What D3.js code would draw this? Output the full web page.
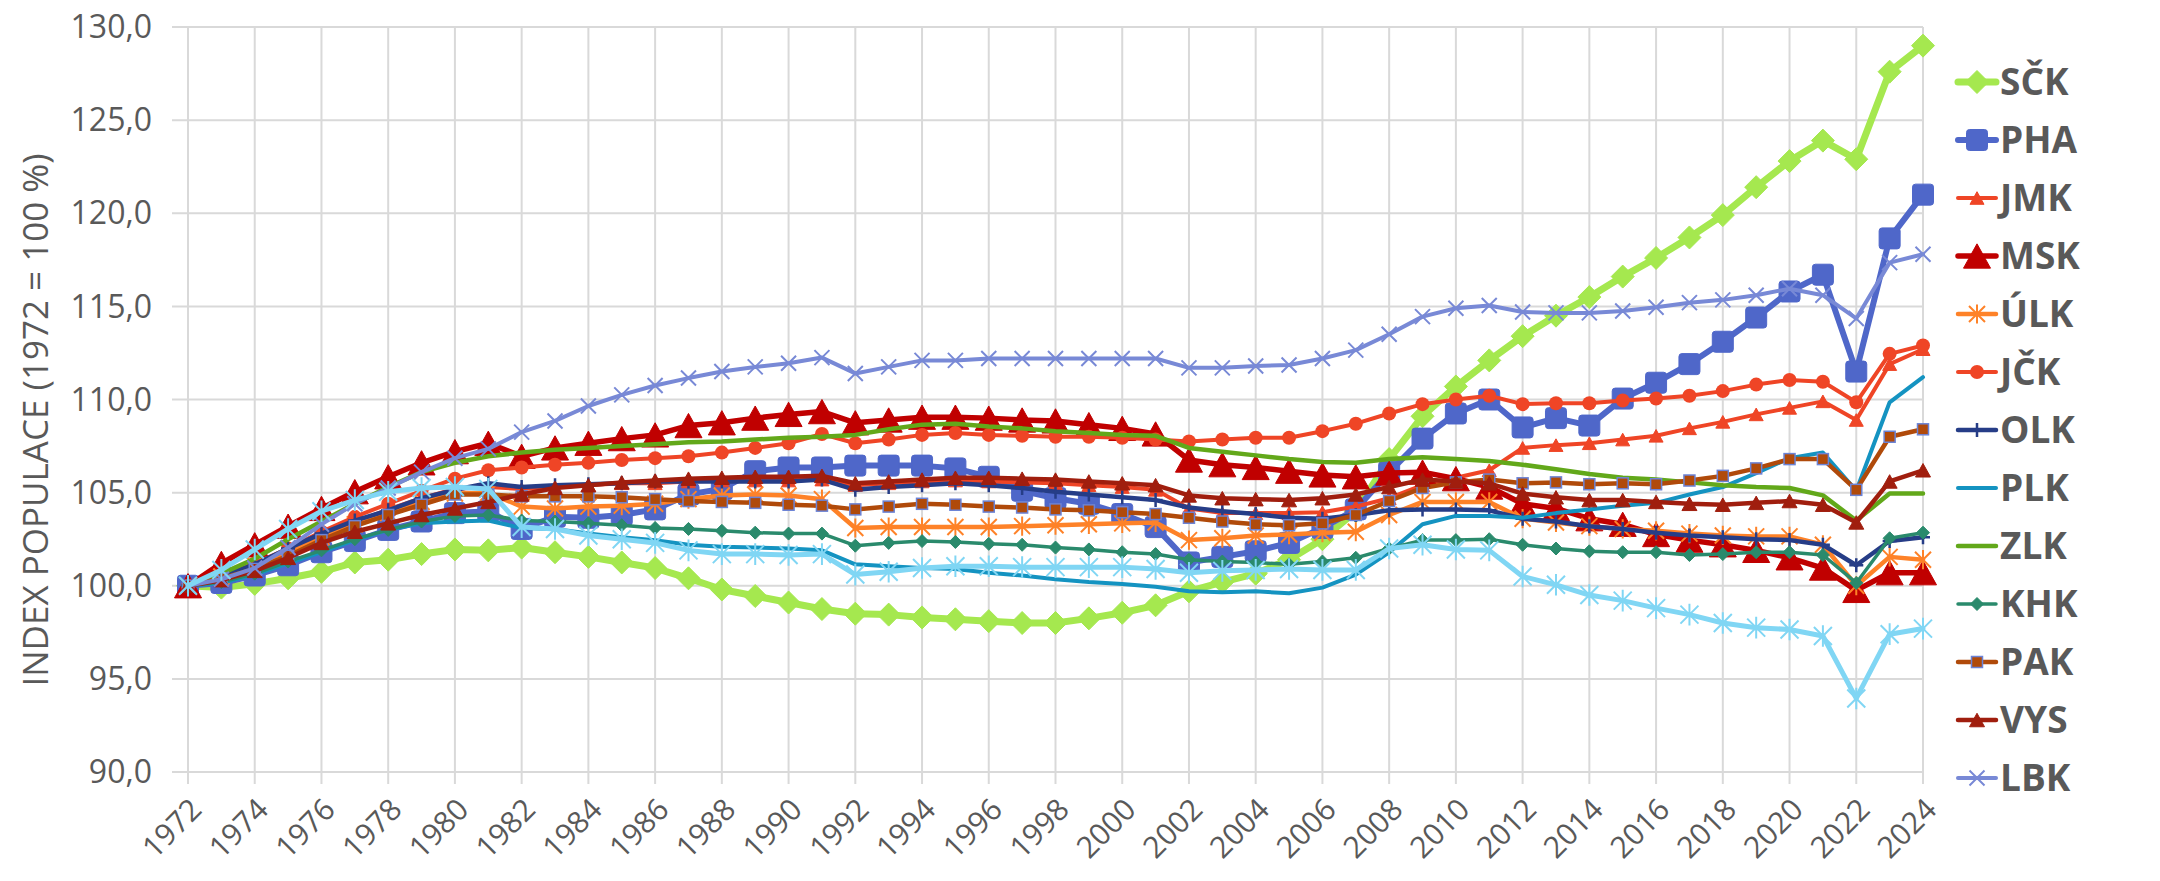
<!DOCTYPE html>
<html>
<head>
<meta charset="utf-8">
<script src="https://cdn.jsdelivr.net/npm/d3@7"></script>
<style>
  body { margin: 0; background: #fff; }
  text { font-family: "Open Sans", sans-serif; fill: #595959; }
</style>
</head>
<body>
<div id="chart"></div>
<script>
// years on the category axis, labelled every second year
var years = d3.range(1972, 2025);
var tickYears = d3.range(1972, 2025, 2);
var yTicks = [90, 95, 100, 105, 110, 115, 120, 125, 130];

// index of population (1972 = 100 %)
var sck = [100.0, 99.9, 100.1, 100.4, 100.75, 101.25, 101.4, 101.7, 101.95, 101.9,
  102.05, 101.8, 101.55, 101.25, 100.95, 100.4, 99.8, 99.45, 99.1, 98.75,
  98.5, 98.45, 98.3, 98.2, 98.1, 98.0, 98.0, 98.25, 98.55, 98.95,
  99.7, 100.2, 100.65, 101.4, 102.5, 104.0, 106.8, 109.1, 110.7, 112.1,
  113.4, 114.5, 115.5, 116.6, 117.6, 118.7, 119.9, 121.4, 122.8, 123.9,
  122.9, 127.6, 129.0];
var pha = [100.0, 100.15, 100.55, 101.1, 101.8, 102.4, 103.0, 103.45, 103.9, 104.0,
  103.05, 103.7, 103.65, 103.8, 104.1, 104.9, 105.2, 106.15, 106.35, 106.35,
  106.45, 106.45, 106.45, 106.3, 105.85, 105.1, 104.7, 104.4, 103.85, 103.15,
  101.25, 101.55, 101.85, 102.3, 103.1, 104.1, 106.1, 107.9, 109.25, 110.0,
  108.5, 109.0, 108.6, 110.05, 110.9, 111.9, 113.1, 114.4, 115.8, 116.7,
  111.5, 118.65, 121.0];
var jmk = [100.0, 100.4, 101.0, 101.8, 102.6, 103.4, 104.1, 104.7, 105.2, 105.3,
  105.2, 105.3, 105.4, 105.5, 105.5, 105.6, 105.65, 105.65, 105.65, 105.7,
  105.4, 105.5, 105.6, 105.65, 105.6, 105.55, 105.5, 105.4, 105.3, 105.15,
  104.15, 103.9, 103.9, 103.9, 103.95, 104.25, 104.7, 105.4, 105.8, 106.2,
  107.4, 107.55, 107.65, 107.85, 108.05, 108.45, 108.8, 109.2, 109.55, 109.9,
  108.9, 111.9, 112.7];
var msk = [100.0, 101.2, 102.2, 103.2, 104.15, 105.05, 105.85, 106.6, 107.2, 107.65,
  106.95, 107.4, 107.65, 107.9, 108.1, 108.6, 108.75, 109.0, 109.2, 109.35,
  108.75, 108.9, 109.05, 109.05, 109.0, 108.9, 108.85, 108.65, 108.45, 108.15,
  106.75, 106.5, 106.35, 106.15, 105.95, 105.85, 106.05, 106.1, 105.75, 105.3,
  104.4, 104.15, 103.6, 103.3, 102.75, 102.45, 102.2, 101.9, 101.5, 100.95,
  99.75, 100.7, 100.7];
var ulk = [100.0, 100.5, 101.1, 101.85, 102.6, 103.3, 103.9, 104.5, 104.95, 105.0,
  104.25, 104.15, 104.25, 104.3, 104.4, 104.65, 104.85, 104.9, 104.85, 104.65,
  103.1, 103.15, 103.15, 103.15, 103.15, 103.2, 103.25, 103.3, 103.35, 103.4,
  102.45, 102.55, 102.7, 102.75, 102.85, 102.9, 103.8, 104.5, 104.5, 104.5,
  103.6, 103.4, 103.2, 103.05, 102.95, 102.8, 102.7, 102.65, 102.65, 102.2,
  100.0, 101.55, 101.4];
var jck = [100.0, 100.5, 101.2, 102.0, 102.9, 103.7, 104.4, 105.1, 105.75, 106.2,
  106.35, 106.5, 106.6, 106.75, 106.85, 106.95, 107.15, 107.4, 107.65, 108.15,
  107.65, 107.85, 108.1, 108.2, 108.1, 108.05, 108.0, 108.0, 107.95, 107.85,
  107.75, 107.85, 107.95, 107.95, 108.3, 108.7, 109.25, 109.75, 110.0, 110.2,
  109.75, 109.8, 109.8, 109.95, 110.05, 110.2, 110.45, 110.8, 111.05, 110.95,
  109.85, 112.45, 112.9];
var olk = [100.0, 100.5, 101.15, 102.0, 102.8, 103.5, 104.05, 104.7, 105.15, 105.5,
  105.3, 105.4, 105.45, 105.5, 105.6, 105.6, 105.6, 105.6, 105.6, 105.7,
  105.15, 105.3, 105.4, 105.5, 105.4, 105.25, 105.05, 104.9, 104.75, 104.6,
  104.2, 104.0, 103.85, 103.65, 103.6, 103.8, 104.05, 104.1, 104.1, 104.05,
  103.6, 103.45, 103.2, 103.05, 102.85, 102.7, 102.6, 102.5, 102.45, 102.2,
  101.1, 102.4, 102.6];
var plk = [100.0, 100.15, 100.6, 101.2, 101.8, 102.45, 103.0, 103.35, 103.45, 103.5,
  103.1, 103.05, 102.8, 102.6, 102.45, 102.2, 102.1, 102.05, 102.0, 101.9,
  101.15, 101.05, 100.95, 100.9, 100.7, 100.55, 100.35, 100.2, 100.1, 99.95,
  99.7, 99.65, 99.7, 99.6, 99.9, 100.6, 101.8, 103.3, 103.75, 103.75,
  103.65, 103.9, 104.1, 104.3, 104.45, 104.9, 105.3, 106.05, 106.85, 107.15,
  105.1, 109.85, 111.2];
var zlk = [100.0, 100.65, 101.45, 102.5, 103.45, 104.4, 105.3, 106.1, 106.6, 106.95,
  107.15, 107.3, 107.4, 107.5, 107.6, 107.7, 107.75, 107.85, 107.95, 108.0,
  108.1, 108.4, 108.65, 108.7, 108.55, 108.45, 108.3, 108.2, 108.1, 108.05,
  107.4, 107.2, 107.0, 106.8, 106.65, 106.6, 106.8, 106.9, 106.8, 106.7,
  106.5, 106.25, 106.0, 105.8, 105.7, 105.55, 105.4, 105.3, 105.25, 104.85,
  103.5, 104.95, 104.95];
var khk = [100.0, 100.2, 100.65, 101.3, 101.9, 102.5, 103.0, 103.45, 103.75, 103.8,
  103.5, 103.45, 103.35, 103.25, 103.1, 103.05, 102.95, 102.85, 102.8, 102.8,
  102.15, 102.3, 102.4, 102.35, 102.25, 102.2, 102.05, 101.95, 101.8, 101.7,
  101.4, 101.3, 101.25, 101.15, 101.3, 101.5, 102.0, 102.45, 102.45, 102.5,
  102.2, 102.0, 101.85, 101.8, 101.8, 101.65, 101.7, 101.8, 101.8, 101.65,
  100.15, 102.55, 102.85];
var pak = [100.0, 100.4, 100.9, 101.6, 102.45, 103.2, 103.8, 104.35, 104.9, 104.9,
  104.8, 104.8, 104.8, 104.75, 104.65, 104.55, 104.5, 104.45, 104.35, 104.3,
  104.1, 104.25, 104.4, 104.35, 104.25, 104.2, 104.1, 104.05, 103.95, 103.85,
  103.65, 103.45, 103.3, 103.25, 103.35, 103.8, 104.55, 105.25, 105.55, 105.7,
  105.5, 105.55, 105.45, 105.5, 105.45, 105.65, 105.9, 106.3, 106.8, 106.8,
  105.15, 108.0, 108.4];
var vys = [100.0, 100.3, 100.8, 101.5, 102.3, 102.9, 103.35, 103.8, 104.15, 104.5,
  104.9, 105.25, 105.4, 105.55, 105.65, 105.75, 105.8, 105.85, 105.85, 105.9,
  105.5, 105.6, 105.7, 105.8, 105.8, 105.75, 105.7, 105.6, 105.5, 105.4,
  104.85, 104.7, 104.65, 104.6, 104.7, 104.9, 105.3, 105.7, 105.6, 105.5,
  104.95, 104.75, 104.6, 104.6, 104.5, 104.4, 104.35, 104.45, 104.55, 104.35,
  103.4, 105.6, 106.2];
var lbk = [100.0, 100.35, 100.95, 102.05, 103.3, 104.4, 105.25, 106.1, 106.85, 107.35,
  108.25, 108.85, 109.65, 110.25, 110.75, 111.15, 111.5, 111.75, 111.95, 112.25,
  111.4, 111.75, 112.1, 112.1, 112.2, 112.2, 112.2, 112.2, 112.2, 112.2,
  111.7, 111.7, 111.8, 111.85, 112.2, 112.65, 113.5, 114.45, 114.9, 115.05,
  114.7, 114.65, 114.65, 114.75, 114.95, 115.2, 115.35, 115.6, 115.95, 115.6,
  114.35, 117.35, 117.8];
var kvk = [100.0, 100.85, 101.95, 103.05, 104.0, 104.6, 105.05, 105.25, 105.3, 105.2,
  103.15, 103.05, 102.7, 102.5, 102.3, 101.9, 101.7, 101.7, 101.65, 101.7,
  100.6, 100.75, 100.95, 101.05, 101.05, 101.0, 101.0, 101.0, 101.0, 100.9,
  100.7, 100.8, 100.85, 100.9, 100.85, 100.85, 102.0, 102.2, 101.95, 101.9,
  100.5, 100.05, 99.5, 99.2, 98.8, 98.45, 98.0, 97.75, 97.65, 97.3,
  93.95, 97.4, 97.7];

// drawing order = legend order, the last one (KVK) got cut from the legend
var series = [
  {name: "SČK", data: sck, color: "#a5e84f", width: 7,   marker: "diamond",  size: 11.5},
  {name: "PHA", data: pha, color: "#4f67c9", width: 6,   marker: "square",   size: 10.5},
  {name: "JMK", data: jmk, color: "#ef4526", width: 4,   marker: "triangle", size: 7},
  {name: "MSK", data: msk, color: "#c00000", width: 5.5, marker: "triangle", size: 13.5},
  {name: "ÚLK", data: ulk, color: "#fe8228", width: 4.5, marker: "star",     size: 8},
  {name: "JČK", data: jck, color: "#ef4526", width: 4,   marker: "circle",   size: 7},
  {name: "OLK", data: olk, color: "#263d87", width: 4.5, marker: "plus",     size: 7},
  {name: "PLK", data: plk, color: "#1493c1", width: 4,   marker: null},
  {name: "ZLK", data: zlk, color: "#62a81a", width: 4.5, marker: null},
  {name: "KHK", data: khk, color: "#2a8a6c", width: 3.5, marker: "diamond",  size: 6.5},
  {name: "PAK", data: pak, color: "#b04a0a", width: 4.5, marker: "square",   size: 5.5, edge: "#6b83d6"},
  {name: "VYS", data: vys, color: "#a01e0e", width: 4.5, marker: "triangle", size: 7.5},
  {name: "LBK", data: lbk, color: "#7889d6", width: 4,   marker: "x",        size: 7.5},
  {name: "KVK", data: kvk, color: "#80d6f4", width: 5,   marker: "star",     size: 9, legend: false}
];

var W = 2160, H = 881;
var svg = d3.select("#chart").append("svg")
  .attr("width", W).attr("height", H);

var x = d3.scaleLinear().domain([1972, 2024]).range([188, 1923]);
var y = d3.scaleLinear().domain([90, 130]).range([772, 27]);

var czech = d3.formatLocale({decimal: ",", thousands: " ", grouping: [3], currency: ["", " Kč"]});
var fmt = czech.format(".1f");

// grid
var grid = svg.append("g").attr("class", "grid");
grid.selectAll(".hline").data(yTicks).enter().append("line")
  .attr("x1", 172).attr("x2", x(2024))
  .attr("y1", function(d) { return y(d); })
  .attr("y2", function(d) { return y(d); })
  .attr("stroke", "#d9d9d9").attr("stroke-width", 2);
grid.selectAll(".vline").data(tickYears).enter().append("line")
  .attr("x1", function(d) { return x(d); })
  .attr("x2", function(d) { return x(d); })
  .attr("y1", y(130)).attr("y2", y(90) + 12)
  .attr("stroke", "#d9d9d9").attr("stroke-width", 2);

// y axis labels
svg.append("g").selectAll("text").data(yTicks).enter().append("text")
  .attr("x", 152).attr("y", function(d) { return y(d); })
  .attr("dy", "0.35em")
  .attr("text-anchor", "end")
  .attr("font-size", "32px")
  .text(function(d) { return fmt(d); });

svg.append("text")
  .attr("transform", "translate(36,420) rotate(-90)")
  .attr("text-anchor", "middle")
  .attr("dy", "0.35em")
  .attr("font-size", "35px")
  .text("INDEX POPULACE (1972 = 100 %)");

// x axis labels
svg.append("g").selectAll("text").data(tickYears).enter().append("text")
  .attr("transform", function(d) { return "translate(" + (x(d) + 8) + ",804) rotate(-45)"; })
  .attr("text-anchor", "end")
  .attr("dy", "0.35em")
  .attr("font-size", "30px")
  .text(function(d) { return d; });

function markerPath(type, s) {
  if (type == "diamond") return "M0," + (-s) + "L" + s + ",0L0," + s + "L" + (-s) + ",0Z";
  if (type == "triangle") return "M0," + (-s * 0.9) + "L" + s + "," + (s * 0.9) + "L" + (-s) + "," + (s * 0.9) + "Z";
  if (type == "star") return "M" + (-s) + "," + (-s) + "L" + s + "," + s + "M" + (-s) + "," + s + "L" + s + "," + (-s) + "M0," + (-s * 1.2) + "L0," + (s * 1.2);
  if (type == "x") return "M" + (-s) + "," + (-s) + "L" + s + "," + s + "M" + (-s) + "," + s + "L" + s + "," + (-s);
  if (type == "plus") return "M0," + (-s) + "L0," + s + "M" + (-s) + ",0L" + s + ",0";
  return "";
}

function drawMarker(g, s) {
  if (!s.marker) return;
  if (s.marker == "circle") {
    g.append("circle").attr("r", s.size).attr("fill", s.color);
  } else if (s.marker == "square") {
    g.append("rect")
      .attr("x", -s.size).attr("y", -s.size)
      .attr("width", s.size * 2).attr("height", s.size * 2)
      .attr("rx", s.edge ? 0 : 3)
      .attr("fill", s.color)
      .attr("stroke", s.edge || s.color)
      .attr("stroke-width", s.edge ? 1.5 : 1);
  } else if (s.marker == "star" || s.marker == "x" || s.marker == "plus") {
    g.append("path").attr("d", markerPath(s.marker, s.size))
      .attr("fill", "none").attr("stroke", s.color)
      .attr("stroke-width", s.marker == "plus" ? 2.5 : 2);
  } else {
    g.append("path").attr("d", markerPath(s.marker, s.size))
      .attr("fill", s.color).attr("stroke", s.color)
      .attr("stroke-width", 1).attr("stroke-linejoin", "round");
  }
}

var line = d3.line()
  .x(function(d, i) { return x(years[i]); })
  .y(function(d) { return y(d); });

var plot = svg.append("g").attr("class", "series");
series.forEach(function(s) {
  var g = plot.append("g");
  g.append("path")
    .attr("d", line(s.data))
    .attr("fill", "none")
    .attr("stroke", s.color)
    .attr("stroke-width", s.width)
    .attr("stroke-linejoin", "round")
    .attr("stroke-linecap", "round");
  if (s.marker) {
    g.selectAll(".pt").data(s.data).enter().append("g")
      .attr("transform", function(d, i) { return "translate(" + x(years[i]) + "," + y(d) + ")"; })
      .each(function() { drawMarker(d3.select(this), s); });
  }
});

// legend
var legend = svg.append("g").attr("class", "legend");
series.filter(function(s) { return s.legend !== false; }).forEach(function(s, i) {
  var ly = 82 + i * 58;
  var g = legend.append("g").attr("transform", "translate(0," + ly + ")");
  g.append("line").attr("x1", 1958).attr("x2", 1996)
    .attr("stroke", s.color).attr("stroke-width", s.width)
    .attr("stroke-linecap", "round");
  var m = g.append("g").attr("transform", "translate(1977,0)");
  drawMarker(m, s);
  g.append("text").attr("x", 2000).attr("dy", "0.35em")
    .attr("font-size", "37px").attr("font-weight", "bold")
    .text(s.name);
});
</script>
</body>
</html>
